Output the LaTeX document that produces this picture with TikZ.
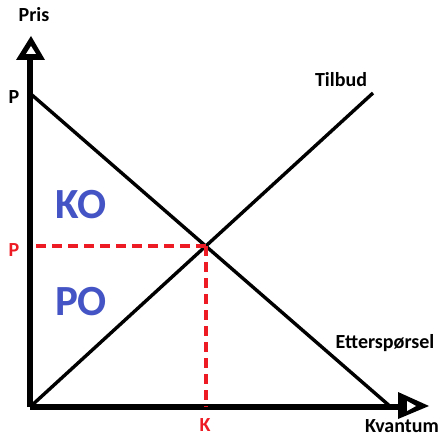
\documentclass[tikz,border=0pt]{standalone}
\usepackage{fontspec}
\setmainfont{Carlito}
\definecolor{areablue}{RGB}{68,84,196}
\definecolor{guidered}{RGB}{237,28,36}

\begin{document}
\begin{tikzpicture}[
  x=1pt,y=-1pt,
  axis/.style={line width=6.5pt},
  curve/.style={line width=3.4pt},
  guide/.style={guidered,line width=4pt,dash pattern=on 10pt off 6pt},
  lbl/.style={font=\bfseries\fontsize{20}{20}\selectfont},
  area/.style={areablue,font=\bfseries\fontsize{43}{43}\selectfont}
]
\useasboundingbox (0,0) rectangle (440,436);
%% axes
\coordinate (O) at (30,407);
\coordinate (Ybase) at (30,58);
\coordinate (Xbase) at (400,407);
\draw[axis] (O) -- (Ybase);
\draw[axis] (O) -- (Xbase);
% open arrow heads
\fill (31,36) -- (45,60) -- (16,60) -- cycle;
\fill[white] (31,46) -- (36,54) -- (26,54) -- cycle;
\fill (429,406) -- (398,392) -- (398,419) -- cycle;
\fill[white] (416,406) -- (407,401) -- (407,411) -- cycle;
%% curves
\coordinate (Dstart) at (32,95);
\coordinate (Dend) at (392,408);
\coordinate (Send) at (373,93);
\draw[curve] (Dstart) -- (Dend);
\draw[curve] (O) -- (Send);
\coordinate (E) at (intersection of Dstart--Dend and O--Send);
%% equilibrium
\draw[guide] (E) -- (E -| O);
\draw[guide] (E) -- (E |- O);
%% labels
\node[lbl] (pris) at (34,15) {Pris};
\node[lbl] (kvantum) at (402,426) {Kvantum};
\node[lbl] (tilbud) at (341,80) {Tilbud};
\node[lbl] (ettersp) at (385,343) {Etterspørsel};
\node[lbl] (pmax) at (14,97) {P};
\node[lbl,guidered] (peq) at (14,250) {P};
\node[lbl,guidered] (keq) at (205,425) {K};
\node[area] (ko) at (81,205) {KO};
\node[area] (po) at (81,302) {PO};
\end{tikzpicture}
\end{document}
